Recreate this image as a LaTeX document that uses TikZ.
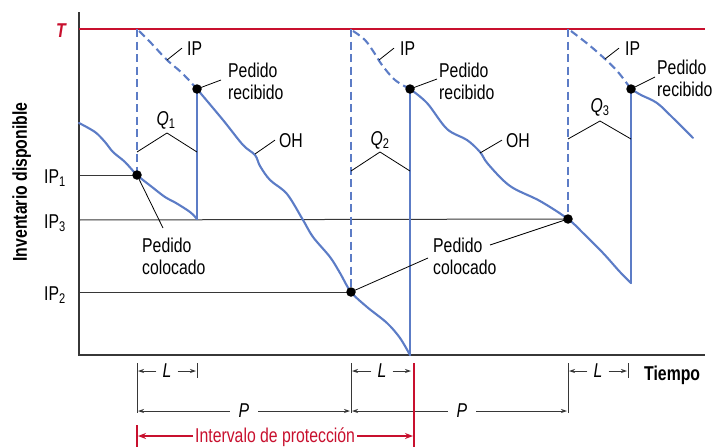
\documentclass[tikz,border=0pt]{standalone}
\usepackage{fontspec}
\setmainfont{Liberation Sans}[FakeStretch=0.79]
\usetikzlibrary{arrows.meta,positioning}
\definecolor{invblue}{RGB}{92,124,198}
\definecolor{invred}{RGB}{200,16,46}
\definecolor{axisgray}{RGB}{55,55,55}

\begin{document}
\begin{tikzpicture}[x=1pt, y=-1pt,
      font=\fontsize{20}{22}\selectfont,
      % lines of the chart
      axis/.style={line width=1.3pt, draw=axisgray},
      level/.style={line width=1pt, draw=axisgray},
      onhand/.style={line width=2.1pt, draw=invblue, line join=round, line cap=round},
      position/.style={line width=2.1pt, draw=invblue, dash pattern=on 8pt off 4.5pt},
      leader/.style={line width=0.8pt, draw=black},
      dot/.style={circle, fill=black, inner sep=0pt, minimum size=9.5pt},
      % texts
      lbl/.style={inner sep=0pt, align=left},
      dimlbl/.style={inner ysep=0pt, inner xsep=6pt, font=\fontsize{20}{22}\selectfont\itshape},
      dim/.style={line width=0.8pt, draw=axisgray, -{Stealth[length=6pt,width=4pt]}},
      tick/.style={line width=1pt, draw=axisgray},
      redarrow/.style={line width=1.6pt, draw=invred, -{Stealth[length=8pt,width=6pt]}}]
    \useasboundingbox (0,0) rectangle (718,447);

    % axes and target level
    \draw[axis] (79,12) -- (79,355) -- (705,355);
    \draw[line width=2pt, invred] (79,29) -- (705,29);
    \node(T)[lbl, anchor=base east, text=invred] at (66,37) {\bfseries\itshape T};
    \node(ylab)[lbl, rotate=90, anchor=base] at (27,182) {\bfseries Inventario disponible};

    % order and receipt points
    \coordinate (o1) at (137,175);
    \coordinate (o2) at (351,292);
    \coordinate (o3) at (568,219);
    \coordinate (r1) at (197,89);
    \coordinate (r2) at (410,89);
    \coordinate (r3) at (631,89);

    % inventory position levels
    \node(ip1)[lbl, anchor=base east] at (66,183) {IP\textsubscript{1}};
    \node(ip3)[lbl, anchor=base east] at (66,228) {IP\textsubscript{3}};
    \node(ip2)[lbl, anchor=base east] at (66,300) {IP\textsubscript{2}};
    \coordinate (a1) at (79,175);
    \coordinate (a3) at (79,220);
    \coordinate (a2) at (79,292);
    \draw[level] (a1) -- (o1);
    \draw[level] (a3) -- (o3);
    \draw[level] (a2) -- (o2);

    % dashed: inventory position
    \draw[position] (137,29) -- (o1);
    \draw[position] (351,29) -- (o2);
    \draw[position] (568,29) -- (o3);
    \draw[position] plot[smooth, tension=0.6] coordinates {(139,31) (152,44) (167,60) (182,73) (r1)};
    \draw[position] plot[smooth, tension=0.6] coordinates {(353,31) (365,40) (375,54) (382,65) (395,80) (r2)};
    \draw[position] plot[smooth, tension=0.6] coordinates {(571,31) (589,45) (605,59) (618,72) (r3)};

    % solid: on hand inventory
    \draw[onhand] plot[smooth, tension=0.55] coordinates {(79,123) (95,132) (105,142) (113,152) (125,162)
      (o1) (152,187) (165,197) (176,203) (190,212) (197,219)};
    \draw[onhand] (197,219) -- (r1);
    \draw[onhand] plot[smooth, tension=0.55] coordinates {(r1) (223,120) (243,145) (255,155) (260,166)
      (270,180) (287,194) (303,220) (313,237) (330,257) (340,273) (o2) (367,307) (387,323) (400,338) (410,355)};
    \draw[onhand] (410,355) -- (r2);
    \draw[onhand] plot[smooth, tension=0.55] coordinates {(r2) (427,103) (447,129) (467,140) (480,152)
      (488,164) (510,186) (540,201) (o3) (583,233) (603,253) (620,272) (631,283)};
    \draw[onhand] (631,283) -- (r3);
    \draw[onhand] plot[smooth, tension=0.55] coordinates {(r3) (641,95) (657,103) (673,118) (693,138)};

    \foreach \p in {o1,o2,o3,r1,r2,r3}
      \node[dot] at (\p) {};

    % order quantities
    \draw[leader] (137,152) -- (167,133) -- (197,152);
    \draw[leader] (351,171) -- (380,152) -- (410,171);
    \draw[leader] (568,139) -- (600,121) -- (631,139);
    \node(q1)[lbl, anchor=base] at (166,125) {\itshape Q\textsubscript{\upshape 1}};
    \node(q2)[lbl, anchor=base] at (380,145) {\itshape Q\textsubscript{\upshape 2}};
    \node(q3)[lbl, anchor=base] at (600,112) {\itshape Q\textsubscript{\upshape 3}};

    % IP labels
    \node(ipA)[lbl, anchor=base west] at (187,55) {IP};
    \node(ipB)[lbl, anchor=base west] at (400,55) {IP};
    \node(ipC)[lbl, anchor=base west] at (625,55) {IP};
    \coordinate (ipa) at (167,60);
    \coordinate (ipb) at (379,60);
    \coordinate (ipc) at (605,59);
    \path (ipa) edge[leader] ([xshift=-5pt]ipA.west);
    \path (ipb) edge[leader] ([xshift=-6pt]ipB.west);
    \path (ipc) edge[leader] ([xshift=-6pt]ipC.west);

    % OH labels
    \node(ohA)[lbl, anchor=base west] at (279,147) {OH};
    \node(ohB)[lbl, anchor=base west] at (506,147) {OH};
    \coordinate (oha) at (255,154);
    \coordinate (ohb) at (480,153);
    \path (oha) edge[leader] ([xshift=-4pt]ohA.west);
    \path (ohb) edge[leader] ([xshift=-4pt]ohB.west);

    % received
    \node(recA)[lbl, anchor=north west] at (228,62.5) {Pedido\\recibido};
    \node(recB)[lbl, anchor=north west] at (439,62.5) {Pedido\\recibido};
    \node(recC)[lbl, anchor=north west] at (657,59.5) {Pedido\\recibido};
    \coordinate (ra) at (221,80);
    \coordinate (rb) at (437,79);
    \coordinate (rc) at (655,77);
    \path (r1) edge[leader] (ra);
    \path (r2) edge[leader] (rb);
    \path (r3) edge[leader] (rc);

    % placed
    \node(plcA)[lbl, anchor=north west] at (142,237.5) {Pedido\\colocado};
    \node(plcB)[lbl, anchor=north west] at (433,237.5) {Pedido\\colocado};
    \coordinate (pa) at (163,228);
    \coordinate (pb) at (428,258);
    \coordinate (pc) at (490,245);
    \path (o1) edge[leader] (pa);
    \path (o2) edge[leader] (pb);
    \path (pc) edge[leader] (o3);

    % time line
    \draw[tick] (137,363) -- (137,413);
    \draw[tick] (197,363) -- (197,378);
    \draw[tick] (351,363) -- (351,413);
    \draw[tick] (568,363) -- (568,413);
    \draw[tick] (628,363) -- (628,378);
    \node(L1)[dimlbl] at (167,371) {L};
    \node(L2)[dimlbl] at (382,371) {L};
    \node(L3)[dimlbl] at (598,371) {L};
    \node(P1)[dimlbl, inner xsep=9pt] at (244,411) {P};
    \node(P2)[dimlbl, inner xsep=9pt] at (462,411) {P};
    \draw[dim] (L1.west) -- (138,371);
    \draw[dim] (L1.east) -- (196,371);
    \draw[dim] (L2.west) -- (352,371);
    \draw[dim] (L2.east) -- (411,371);
    \draw[dim] (L3.west) -- (569,371);
    \draw[dim] (L3.east) -- (627,371);
    \draw[dim] (P1.west) -- (138,411);
    \draw[dim] (P1.east) -- (350,411);
    \draw[dim] (P2.west) -- (352,411);
    \draw[dim] (P2.east) -- (567,411);
    \node(time)[lbl, anchor=base west] at (644,380) {\bfseries Tiempo};

    % protection interval
    \draw[line width=2pt, invred] (414,363) -- (414,450);
    \draw[line width=2pt, invred] (137,425) -- (137,450);
    \node(prot)[lbl, anchor=base west, text=invred] at (195,442) {Intervalo de protección};
    \draw[redarrow] ([xshift=-2pt]prot.base west |- 0,436) -- (138,436);
    \draw[redarrow] ([xshift=2pt]prot.base east |- 0,436) -- (413,436);
  \end{tikzpicture}
\end{document}
